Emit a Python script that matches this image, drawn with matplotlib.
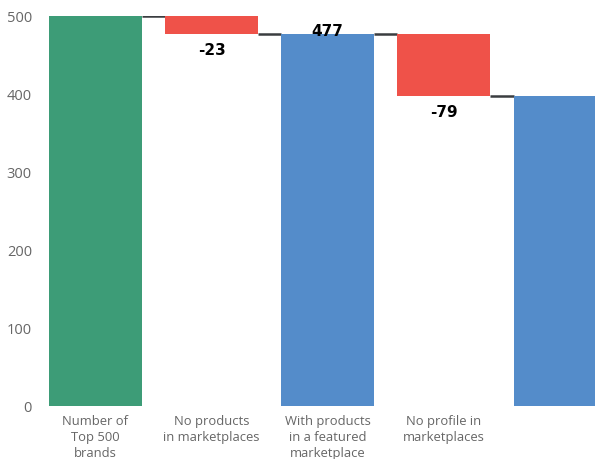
import matplotlib.pyplot as plt
import numpy as np

# Data
categories = ['Number of\nTop 500\nbrands', 'No products\nin marketplaces',
              'With products\nin a featured\nmarketplace', 'No profile in\nmarketplaces', '']
changes = [500, -23, None, -79, None]   # None = subtotal bar
labels = ['', '-23', '477', '-79', '']

green = '#3d9c77'
red = '#ef5249'
blue = '#548cca'

fig = plt.figure(figsize=(5.95, 4.6), dpi=100, facecolor='white')
ax = fig.add_axes([43 / 595, 1 - 407 / 460, 552 / 595, 390 / 460])

x = np.arange(len(categories))
width = 0.8

# Build waterfall
running = 0
bottoms, heights, colors, ends = [], [], [], []
for i, c in enumerate(changes):
    if i == 0:
        bottoms.append(0); heights.append(c); colors.append(green)
        running = c
    elif c is None:
        bottoms.append(0); heights.append(running); colors.append(blue)
    else:
        new = running + c
        bottoms.append(new); heights.append(-c); colors.append(red)
        running = new
    ends.append(running)

ax.bar(x, heights, width, bottom=bottoms, color=colors, zorder=2)

# Connector lines between bars
for i in range(len(x) - 1):
    ax.plot([x[i] + width / 2, x[i + 1] - width / 2], [ends[i], ends[i]],
            color='#3a3d40', linewidth=1.8, zorder=1, solid_capstyle='butt')

# Value labels
for i, lab in enumerate(labels):
    if not lab:
        continue
    if changes[i] is not None and changes[i] < 0:
        ax.annotate(lab, (x[i], bottoms[i]), xytext=(0, -6), textcoords='offset points',
                    ha='center', va='top', fontsize=11, fontweight='bold', color='black')
    else:
        ax.annotate(lab, (x[i], bottoms[i] + heights[i]), xytext=(0, -3), textcoords='offset points',
                    ha='center', va='bottom', fontsize=11, fontweight='bold', color='black',
                    zorder=3)

ax.set_xlim(-0.45, 4.3)
ax.set_ylim(0, 500)
ax.set_yticks([0, 100, 200, 300, 400, 500])
ax.set_xticks(x)
ax.set_xticklabels(categories, fontsize=9.4, color='#666666', family='Open Sans',
                   linespacing=1.3)
for t in ax.get_yticklabels():
    t.set_fontsize(10.5)
    t.set_color('#666666')
    t.set_family('Open Sans')
ax.tick_params(axis='x', length=0, pad=6)
ax.tick_params(axis='y', length=0, pad=8)

for s in ax.spines.values():
    s.set_visible(False)

plt.savefig('out.png', dpi=100, facecolor='white')
plt.close()
